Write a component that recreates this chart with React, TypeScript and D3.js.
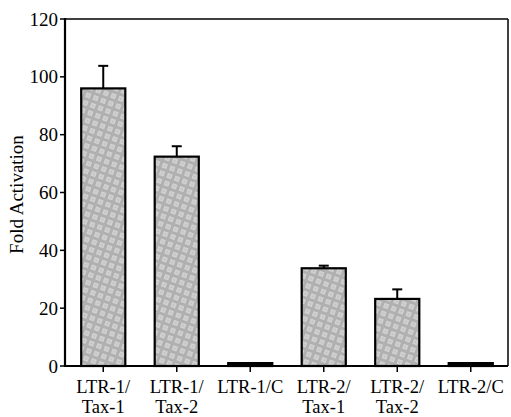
import React from "react";
import * as d3 from "d3";

const categories = ["LTR-1/Tax-1", "LTR-1/Tax-2", "LTR-1/C", "LTR-2/Tax-1", "LTR-2/Tax-2", "LTR-2/C"];
const labelLines = [["LTR-1/", "Tax-1"], ["LTR-1/", "Tax-2"], ["LTR-1/C"], ["LTR-2/", "Tax-1"], ["LTR-2/", "Tax-2"], ["LTR-2/C"]];
const values = [96, 72.4, 1, 33.8, 23.2, 1];
const errors = [7.8, 3.6, 0, 0.9, 3.3, 0];
const yTicks = [0, 20, 40, 60, 80, 100, 120];

export default function App() {
  const W = 511, H = 417;
  const left = 65, right = 508, top = 19, bottom = 366;
  const x = d3.scaleBand<string>().domain(categories).range([left + 1.5, right - 0.5]).paddingInner(0.4).paddingOuter(0.2);
  const y = d3.scaleLinear().domain([0, 120]).range([bottom, top]);
  const font = "'Liberation Serif', 'Times New Roman', serif";
  return (
    <div style={{ position: "absolute", left: 0, top: 0 }}>
      <svg width={W} height={H} style={{ display: "block", background: "#fff" }}>
        <defs>
          <pattern id="chk" width="8" height="8" patternUnits="userSpaceOnUse" patternTransform="rotate(20)">
            <rect width="8" height="8" fill="#b0b0b0" />
            <rect x="1" y="1" width="5" height="5" fill="#d2d2d2" />
            <rect x="2.5" y="2.5" width="2" height="2" fill="#c0c0c0" />
          </pattern>
        </defs>
        {/* frame */}
        <line x1={left} x2={right} y1={top} y2={top} stroke="#000" strokeWidth={1.5} />
        <line x1={right} x2={right} y1={top} y2={bottom} stroke="#000" strokeWidth={1.5} />
        {/* bars */}
        {categories.map((c, i) => {
          const x0 = x(c)!;
          const bw = x.bandwidth();
          const cx = x0 + bw / 2;
          const yv = y(values[i]);
          return (
            <g key={c}>
              {errors[i] > 0 && (
                <g stroke="#000" strokeWidth={2}>
                  <line x1={cx} x2={cx} y1={yv} y2={y(values[i] + errors[i])} />
                  <line x1={cx - 5} x2={cx + 5} y1={y(values[i] + errors[i])} y2={y(values[i] + errors[i])} />
                </g>
              )}
              <rect x={x0} y={yv} width={bw} height={bottom - yv} fill={values[i] > 3 ? "url(#chk)" : "#000"} stroke="#000" strokeWidth={2.2} />
            </g>
          );
        })}
        {/* axes */}
        <line x1={left} x2={left} y1={top - 1} y2={bottom + 1} stroke="#000" strokeWidth={2.2} />
        <line x1={left} x2={right} y1={bottom} y2={bottom} stroke="#000" strokeWidth={2.2} />
        {yTicks.map((t) => (
          <g key={t}>
            <line x1={left - 5} x2={left} y1={y(t)} y2={y(t)} stroke="#000" strokeWidth={1.5} />
            <text x={left - 7} y={y(t)} dy="0.35em" textAnchor="end" fontFamily={font} fontSize={19}>{t}</text>
          </g>
        ))}
        {categories.map((c, i) => {
          const cx = x(c)! + x.bandwidth() / 2;
          return (
            <g key={c}>
              <line x1={cx} x2={cx} y1={bottom} y2={bottom + 6} stroke="#000" strokeWidth={1.5} />
              {labelLines[i].map((l, k) => (
                <text key={k} x={cx} y={393 + k * 20} textAnchor="middle" fontFamily={font} fontSize={18.5}>{l}</text>
              ))}
            </g>
          );
        })}
        <text transform={`translate(23, ${(top + bottom) / 2 + 2}) rotate(-90)`} textAnchor="middle" fontFamily={font} fontSize={19}>Fold Activation</text>
      </svg>
    </div>
  );
}
